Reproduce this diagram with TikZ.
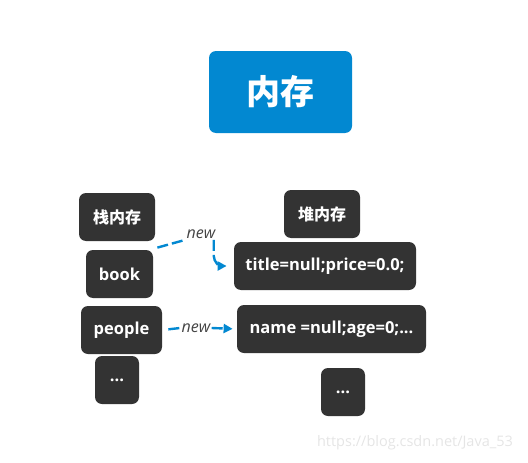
\documentclass[tikz,border=0pt]{standalone}
\usepackage{fontspec}
\setmainfont{Open Sans}
\newfontfamily\cjk{Noto Sans CJK SC}
\usetikzlibrary{arrows.meta}
\definecolor{boxgray}{HTML}{333333}
\definecolor{memblue}{HTML}{0288D1}
\definecolor{labgray}{HTML}{444444}
\begin{document}
\begin{tikzpicture}[x=1pt,y=-1pt,
  thick,mem box/.style={rounded corners=7pt,fill=boxgray,text=white,font=\bfseries\fontsize{16.5}{18}\selectfont,minimum height=48pt,inner sep=0pt},
  ref line/.style={memblue,line width=2.4pt,dash pattern=on 11pt off 4pt,-{Triangle[length=9pt,width=9pt]}}]

  \useasboundingbox (0,0) rectangle (528,463);

  \node[rounded corners=7pt,fill=memblue,text=white,minimum width=143pt,minimum height=82pt,
    font=\cjk\bfseries\fontsize{34}{36}\selectfont] (mem) at (280.5,92){内存};

  \node[mem box,minimum width=76pt,font=\cjk\bfseries\fontsize{16}{18}\selectfont] (stack) at (117,217){栈内存};
  \node[mem box,minimum width=67pt] (book) at (119.5,274){book};
  \node[mem box,minimum width=81pt] (people) at (121.5,330){people};
  \node[mem box,minimum width=44pt] (sdots) at (117,380){...};

  \node[mem box,minimum width=76pt,font=\cjk\bfseries\fontsize{16}{18}\selectfont] (heap) at (322,214){堆内存};
  \node[mem box,minimum width=182pt] (title) at (325,266){title=null;price=0.0;};
  \node[mem box,minimum width=189pt] (name) at (331.5,329){name =null;age=0;...};
  \node[mem box,minimum width=44pt] (hdots) at (343,392){...};

  \node[text=labgray,font=\itshape\fontsize{16}{18}\selectfont,inner sep=1pt] (new1) at (201,234){new};
  \node[text=labgray,font=\itshape\fontsize{16}{18}\selectfont,inner sep=1pt] (new2) at (196,328){new};

  \draw[ref line,-] ([shift={(4pt,2pt)}]book.north east) -- (new1.south west);
  \draw[ref line] ([xshift=-3pt]new1.south east) -- ++(0,16) to[out=-90,in=180] ([xshift=-7pt]title.west);
  \draw[ref line,-,shorten <=6pt] (people.east) -- (new2.west);
  \draw[ref line,shorten >=4pt] (new2.east) -- (name.west);

  \node[text=black!10,font=\fontsize{14.5}{16}\selectfont] (mark) at (415,443){https://blog.csdn.net/Java\_53};
\end{tikzpicture}
\end{document}
